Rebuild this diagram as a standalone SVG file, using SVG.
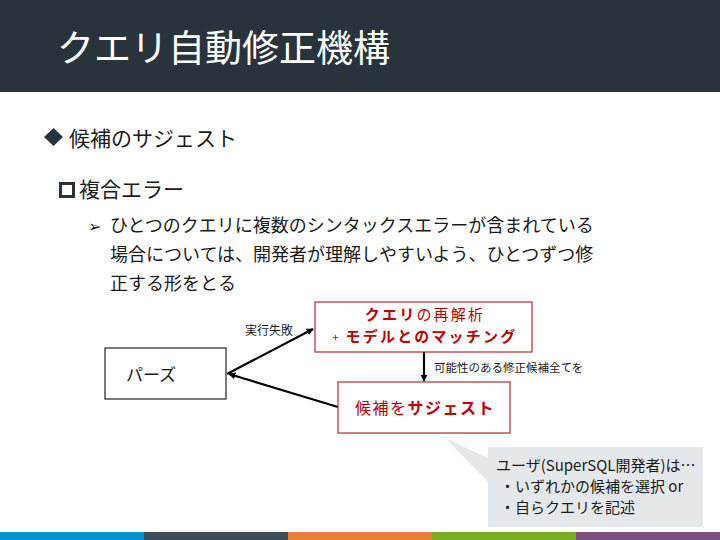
<svg xmlns="http://www.w3.org/2000/svg" width="720" height="540" viewBox="0 0 720 540">
<defs>
<style>
.jp{font-family:"Noto Sans CJK JP","Liberation Sans",sans-serif;}
.body{fill:#1a1a1a;}
.red{fill:#c00000;}
.b{font-weight:bold;}
.box{fill:#fff;stroke:#222;stroke-width:1.2;}
.rbox{fill:#fff;stroke:#b22a2e;stroke-width:1.2;}
.con{stroke:#000;stroke-width:2.2;fill:none;}
</style>
<marker id="ah" viewBox="0 0 10 10" refX="9" refY="5" markerWidth="3.2" markerHeight="3.2" orient="auto-start-reverse">
<path d="M0,0 L10,5 L0,10 z" fill="#000"/>
</marker>
</defs>
<rect x="0" y="0" width="720" height="540" fill="#fff"/>
<g id="header">
<rect x="0" y="0" width="720" height="92" fill="#29333b"/>
<text x="57" y="62" class="jp" font-size="37" fill="#fff">クエリ自動修正機構</text>
</g>
<g id="bullets" class="jp body">
<path d="M44,137 L53.5,128 L63,137 L53.5,146 Z" fill="#29333b"/>
<text x="69" y="146" font-size="21">候補のサジェスト</text>
<rect x="60.5" y="183.5" width="13" height="13" fill="none" stroke="#29333b" stroke-width="3"/>
<text x="79" y="197" font-size="21">複合エラー</text>
<text x="88" y="232" font-size="16">➢</text>
<text x="110" y="232" font-size="18">ひとつのクエリに複数のシンタックスエラーが含まれている</text>
<text x="110" y="261" font-size="18">場合については、開発者が理解しやすいよう、ひとつずつ修</text>
<text x="110" y="290" font-size="18">正する形をとる</text>
</g>
<g id="connectors">
<line class="con" x1="227" y1="374" x2="313" y2="329" marker-end="url(#ah)"/>
<line class="con" x1="338" y1="407" x2="229" y2="374" marker-end="url(#ah)"/>
<line class="con" x1="424" y1="352" x2="424" y2="381" marker-end="url(#ah)"/>
<text x="245" y="335" class="jp body" font-size="12">実行失敗</text>
<text x="434" y="372" class="jp body" font-size="11.5">可能性のある修正候補全てを</text>
</g>
<g id="parse">
<rect class="box" x="105" y="348" width="121" height="51"/>
<text x="151" y="381" class="jp body" font-size="17" text-anchor="middle">パーズ</text>
</g>
<g id="reanalyze">
<rect class="rbox" x="315" y="302" width="217" height="50"/>
<text x="425" y="319.5" class="jp red" font-size="15" text-anchor="middle" letter-spacing="2.2"><tspan class="b">クエリ</tspan>の再解析</text>
<text x="425" y="341.5" class="jp red" font-size="15" text-anchor="middle" letter-spacing="2.2"><tspan font-size="11">+ </tspan><tspan class="b">モデルとのマッチング</tspan></text>
</g>
<g id="suggest">
<rect class="rbox" x="338" y="382" width="172" height="51"/>
<text x="425" y="414" class="jp red" font-size="16" text-anchor="middle" letter-spacing="1.5">候補を<tspan class="b">サジェスト</tspan></text>
</g>
<g id="callout">
<path d="M488,447 L703,447 L703,527 L488,527 L488,482 L445,438 L488,458 Z" fill="#e4e8eb"/>
<text x="496" y="471" class="jp body" font-size="15">ユーザ(SuperSQL開発者)は…</text>
<text x="500" y="492" class="jp body" font-size="15">・いずれかの候補を選択 or</text>
<text x="500" y="513" class="jp body" font-size="15">・自らクエリを記述</text>
</g>
<g id="footer">
<rect x="0" y="532" width="144" height="8" fill="#0392ce"/>
<rect x="144" y="532" width="144" height="8" fill="#3d4d56"/>
<rect x="288" y="532" width="144" height="8" fill="#ed7d3e"/>
<rect x="432" y="532" width="144" height="8" fill="#7aaf22"/>
<rect x="576" y="532" width="144" height="8" fill="#7f4d7e"/>
</g>
</svg>
